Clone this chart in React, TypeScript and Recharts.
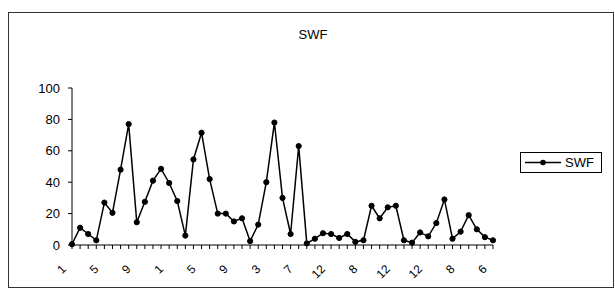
import React from 'react';
import { LineChart, Line, XAxis, YAxis } from 'recharts';

// category labels along the x axis (only every 4th one is shown)
const categories = [
  '1', '2', '3', '4', '5', '6', '7', '8', '9', '10', '11', '12',
  '1', '2', '3', '4', '5', '6', '7', '8', '9', '10', '11', '12',
  '3', '4', '5', '6', '7', '8', '10', '11', '12', '5', '6', '7',
  '8', '9', '10', '11', '12', '3', '6', '9', '12', '2', '4', '6',
  '8', '10', '12', '3', '6',
];

const swfValues = [
  0.5, 11, 7, 3, 27, 20.5, 48, 77, 14.5, 27.5, 41, 48.5, 39.5, 28, 6, 54.5,
  71.5, 42, 20, 20, 15, 17, 2.5, 13, 40, 78, 30, 7, 63, 1, 4, 7.5,
  7, 4.5, 7, 2, 3, 25, 17, 24, 25, 3, 1.5, 8, 5.5, 14, 29, 4,
  8.5, 19, 10, 5, 3,
];

const yTicks = [0, 20, 40, 60, 80, 100];

const data = categories.map((c, i) => ({ cat: c, SWF: swfValues[i] }));

const FONT = '"Liberation Sans", Arial, sans-serif';

const XTick = (props: any) => {
  const { x, y, payload, index } = props;
  if (index % 4 !== 0) return null;
  return (
    <g transform={`translate(${x - 8},${y + 16}) rotate(-45)`}>
      <text
        x={0}
        y={0}
        dy={4}
        textAnchor="end"
        fill="#000"
        fontSize={12}
        fontFamily={FONT}
      >
        {payload.value}
      </text>
    </g>
  );
};

const LegendBox = () => (
  <div
    style={{
      position: 'absolute',
      left: 520,
      top: 152,
      border: '1px solid #000',
      width: 82,
      height: 21,
      display: 'flex',
      alignItems: 'center',
      boxSizing: 'border-box',
      fontFamily: FONT,
      fontSize: 13,
      background: '#fff',
    }}
  >
    <svg width={44} height={19}>
      <line x1={4} y1={9.5} x2={40} y2={9.5} stroke="#000" strokeWidth={1.5} />
      <circle cx={22} cy={9.5} r={2.8} fill="#000" />
    </svg>
    <span style={{ color: '#000' }}>SWF</span>
  </div>
);

export default function App() {
  return (
    <div style={{ position: 'absolute', left: 0, top: 0, width: 615, height: 307, background: '#fff' }}>
      <div
        style={{
          position: 'absolute',
          left: 8,
          top: 12,
          width: 606,
          height: 276,
          border: '1px solid #333',
          boxSizing: 'border-box',
        }}
      />
      <div
        style={{
          position: 'absolute',
          left: 263,
          top: 27,
          width: 100,
          textAlign: 'center',
          fontFamily: FONT,
          fontSize: 13,
          color: '#000',
        }}
      >
        SWF
      </div>
      <LineChart
        width={615}
        height={307}
        data={data}
        margin={{ top: 88, right: 122, bottom: 22, left: 22 }}
        style={{ position: 'absolute', left: 0, top: 0 }}
      >
        <XAxis
          dataKey="cat"
          interval={0}
          height={40}
          tick={<XTick />}
          tickLine={{ stroke: '#000' }}
          tickSize={4}
          axisLine={{ stroke: '#000' }}
        />
        <YAxis
          domain={[0, 100]}
          ticks={yTicks}
          width={50}
          tickSize={4}
          tickLine={{ stroke: '#000' }}
          axisLine={{ stroke: '#000' }}
          tick={{ fill: '#000', fontSize: 13, fontFamily: FONT }}
          tickMargin={8}
        />
        <Line
          type="linear"
          dataKey="SWF"
          stroke="#000"
          strokeWidth={1.5}
          dot={{ r: 2.6, fill: '#000', stroke: '#000', strokeWidth: 1 }}
          isAnimationActive={false}
        />
      </LineChart>
      <LegendBox />
    </div>
  );
}
